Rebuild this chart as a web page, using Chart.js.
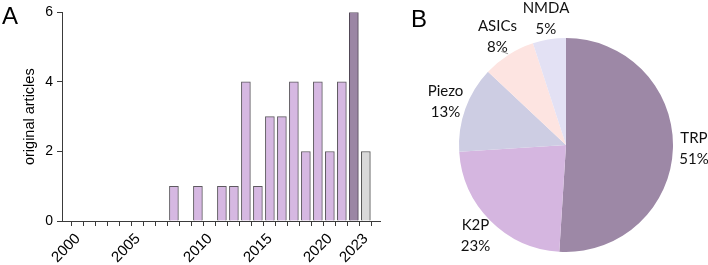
<!DOCTYPE html>
<html>
<head>
<meta charset="utf-8">
<script src="https://cdn.jsdelivr.net/npm/chart.js@4/dist/chart.umd.min.js"></script>
<style>
  html, body { margin: 0; padding: 0; background: #fff; }
  #wrap { position: relative; width: 708px; height: 265px; overflow: hidden; }
  #barBox { position: absolute; left: 0; top: 0; width: 400px; height: 265px; }
  #pieBox { position: absolute; left: 400px; top: 0; width: 308px; height: 265px; }
  .panel { position: absolute; font-family: "Liberation Sans", Arial, sans-serif; font-size: 24px; color: #000; line-height: 1; }
</style>
</head>
<body>
<div id="wrap">
  <div id="barBox"><canvas id="barChart"></canvas></div>
  <div id="pieBox"><canvas id="pieChart"></canvas></div>
  <div class="panel" style="left:2px; top:4px;">A</div>
  <div class="panel" style="left:411px; top:7px;">B</div>
</div>
<script>
// ===== 数据 =====
// x 轴刻度标签（25 个位置，原图 2010 之后整体后移一格）
const yearLabels = ['2000','','','','','2005','','','','','','2010','','','','','2015','','','','','2020','','','2023'];
const articleCounts = [0,0,0,0,0,0,0,0,1,0,1,0,1,1,4,1,3,3,4,2,4,2,4,6,2];
const barKinds = ['n','n','n','n','n','n','n','n','n','n','n','n','n','n','n','n','n','n','n','n','n','n','n','d','g'];
const yTicks = [0, 2, 4, 6];

const channels = ['TRP', 'K2P', 'Piezo', 'ASICs', 'NMDA'];
const shares = [51, 23, 13, 8, 5];
const pieColors = ['#9d88a6', '#d5b6e0', '#cdcde3', '#fde4e1', '#e3e1f4'];

// 柱子配色
const kindFill = { n: '#d6b8e2', d: '#9b86a4', g: '#d9d9d9' };
const kindLine = { n: '#5e5a60', d: '#4f4654', g: '#555555' };

const axisColor = '#3a3a3a';
const fontFam = '"Liberation Sans", Arial, sans-serif';

// ===== 柱状图 =====
new Chart(document.getElementById('barChart'), {
  type: 'bar',
  data: {
    datasets: [{
      data: articleCounts.map((v, i) => ({ x: i, y: v })),
      backgroundColor: barKinds.map(k => kindFill[k]),
      borderColor: barKinds.map(k => kindLine[k]),
      borderWidth: 1,
      borderSkipped: 'bottom',
      barThickness: 9
    }]
  },
  options: {
    responsive: true,
    maintainAspectRatio: false,
    animation: false,
    layout: { padding: { top: 10, right: 20, left: 0, bottom: 0 } },
    plugins: { legend: { display: false }, tooltip: { enabled: false } },
    scales: {
      x: {
        type: 'linear',
        min: -0.8,
        max: 24.65,
        afterFit: s => { s.height = 44; },
        border: { color: axisColor, width: 1 },
        grid: { drawOnChartArea: false, drawTicks: true, tickLength: 5, color: axisColor },
        ticks: {
          stepSize: 1,
          includeBounds: false,
          autoSkip: false,
          minRotation: 45,
          maxRotation: 45,
          padding: 4,
          color: '#000',
          font: { family: fontFam, size: 15 },
          callback: v => yearLabels[v] ?? ''
        }
      },
      y: {
        min: 0,
        max: 6,
        afterFit: s => { s.width = 62; },
        afterBuildTicks: s => { s.ticks = yTicks.map(v => ({ value: v })); },
        border: { color: axisColor, width: 1 },
        grid: { drawOnChartArea: false, drawTicks: true, tickLength: 5, color: axisColor },
        ticks: { color: '#000', font: { family: fontFam, size: 14 }, padding: 4 },
        title: {
          display: true,
          text: 'original articles',
          color: '#000',
          font: { family: fontFam, size: 14.5 },
          padding: { top: 21, bottom: 0 }
        }
      }
    }
  }
});

// ===== 饼图标签 =====
const pieLabelPlugin = {
  id: 'pieLabels',
  afterDatasetsDraw(chart) {
    const ctx = chart.ctx;
    const arcs = chart.getDatasetMeta(0).data;
    ctx.save();
    ctx.font = '15px Lato, "Open Sans", sans-serif';
    ctx.fillStyle = '#111';
    ctx.textAlign = 'center';
    ctx.textBaseline = 'middle';
    arcs.forEach((arc, i) => {
      const mid = (arc.startAngle + arc.endAngle) / 2;
      const d = arc.outerRadius + 21;
      const x = arc.x + Math.cos(mid) * d;
      const y = arc.y + Math.sin(mid) * d;
      ctx.fillText(channels[i], x, y - 10.5);
      ctx.fillText(shares[i] + '%', x, y + 10.5);
      // ASICs 的小引线
      if (channels[i] === 'ASICs') {
        ctx.strokeStyle = '#9a9a9a';
        ctx.lineWidth = 1;
        ctx.beginPath();
        ctx.moveTo(arc.x + Math.cos(mid - 0.04) * (arc.outerRadius + 7), arc.y + Math.sin(mid - 0.04) * (arc.outerRadius + 7));
        ctx.lineTo(arc.x + Math.cos(mid) * (arc.outerRadius + 1), arc.y + Math.sin(mid) * (arc.outerRadius + 1));
        ctx.stroke();
      }
    });
    ctx.restore();
  }
};

// ===== 饼图 =====
new Chart(document.getElementById('pieChart'), {
  type: 'pie',
  data: {
    labels: channels,
    datasets: [{
      data: shares,
      backgroundColor: pieColors,
      borderWidth: 0
    }]
  },
  options: {
    responsive: true,
    maintainAspectRatio: false,
    animation: false,
    layout: { padding: { left: 59, right: 35, top: 38, bottom: 13 } },
    plugins: { legend: { display: false }, tooltip: { enabled: false } }
  },
  plugins: [pieLabelPlugin]
});
</script>
</body>
</html>
